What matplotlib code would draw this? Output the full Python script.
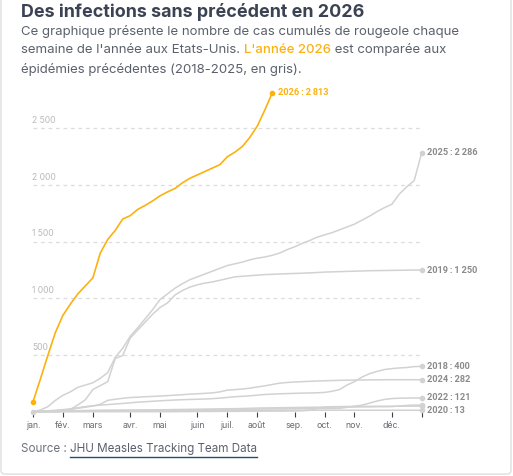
import matplotlib
matplotlib.use("Agg")
import matplotlib.pyplot as plt
from matplotlib.patches import FancyBboxPatch
import numpy as np

# semaines 0..52
weeks = np.arange(53)

cas_2018 = [0, 3, 8, 12, 18, 25, 35, 45, 52, 58, 63, 68, 73, 78, 84, 88, 92, 96,
            100, 103, 106, 108, 110, 112, 115, 120, 126, 132, 136, 140, 146, 152,
            155, 158, 160, 162, 164, 165, 167, 170, 180, 195, 235, 265, 305, 335,
            355, 372, 380, 386, 390, 398, 400]
cas_2019 = [0, 0, 0, 0, 5, 20, 60, 105, 195, 230, 265, 470, 495, 650, 720, 790,
            860, 920, 960, 1030, 1070, 1100, 1120, 1135, 1145, 1160, 1175, 1190,
            1195, 1200, 1205, 1210, 1212, 1215, 1218, 1220, 1222, 1225, 1228, 1232,
            1234, 1236, 1238, 1240, 1242, 1244, 1245, 1246, 1247, 1248, 1249, 1250,
            1250]
cas_2020 = [0, 1, 2, 3, 5, 7, 9, 11, 12] + [13] * 44
cas_2021 = [0] * 20 + [1, 1, 2, 2, 2, 3, 3, 3, 4, 4, 4, 5, 5, 5, 6, 6, 8, 12, 30,
                       40, 44, 45, 46, 46, 47, 47, 48, 48, 48, 49, 49, 49, 49]
cas_2022 = [0, 0, 1, 1, 2, 2, 3, 3, 4, 4, 5, 5, 6, 6, 7, 8, 9, 10, 11, 12, 13, 14,
            15, 16, 17, 18, 19, 20, 21, 22, 23, 24, 25, 25, 26, 26, 27, 27, 28, 28,
            29, 30, 38, 48, 58, 75, 94, 108, 116, 119, 120, 121, 121]
cas_2023 = [0, 1, 2, 3, 4, 5, 6, 7, 8, 9, 10, 11, 12, 13, 14, 15, 16, 17, 18, 19,
            20, 21, 22, 23, 24, 25, 26, 27, 28, 30, 32, 33, 34, 35, 36, 37, 38, 39,
            40, 40, 41, 41, 42, 42, 43, 43, 44, 44, 45, 50, 55, 58, 59]
cas_2024 = [0, 2, 5, 10, 15, 20, 30, 40, 50, 65, 100, 110, 118, 125, 128, 132, 135,
            138, 142, 146, 150, 155, 158, 162, 166, 175, 190, 195, 200, 208, 218,
            228, 240, 252, 258, 262, 265, 268, 271, 273, 275, 277, 278, 279, 280,
            281, 281, 282, 282, 282, 282, 282, 282]
cas_2025 = [0, 15, 45, 100, 145, 175, 215, 235, 255, 295, 345, 480, 560, 665, 740,
            820, 900, 990, 1040, 1090, 1130, 1165, 1190, 1215, 1240, 1265, 1290,
            1305, 1320, 1340, 1355, 1365, 1380, 1400, 1430, 1455, 1485, 1510, 1540,
            1560, 1580, 1605, 1630, 1655, 1690, 1725, 1765, 1800, 1830, 1920, 1985,
            2040, 2286]
cas_2026 = [88, 290, 500, 700, 850, 950, 1040, 1110, 1180, 1400, 1520, 1600, 1700,
            1730, 1785, 1820, 1860, 1905, 1940, 1970, 2020, 2060, 2090, 2120, 2150,
            2180, 2250, 2290, 2340, 2420, 2520, 2660, 2813]

annees_grises = {2018: cas_2018, 2019: cas_2019, 2020: cas_2020, 2021: cas_2021,
                 2022: cas_2022, 2023: cas_2023, 2024: cas_2024, 2025: cas_2025}
annees_etiquetees = [2018, 2019, 2020, 2022, 2024, 2025]

mois = ["jan.", "fév.", "mars", "avr.", "mai", "juin", "juil.", "août", "sep.",
        "oct.", "nov.", "déc."]
semaines_mois = [0, 4, 8, 13, 17, 22, 26, 30, 35, 39, 43, 48]
y_ticks = [500, 1000, 1500, 2000, 2500]

ORANGE = "#fdb10f"
GRIS = "#d2d2d2"
NARROW = ["Roboto", "DejaVu Sans"]
SANS = ["Inter", "DejaVu Sans"]
THIN = "\u2009"


def fmt(n, sep=" "):
    return f"{n:,}".replace(",", sep)


fig = plt.figure(figsize=(5.13, 4.76), dpi=100)
fig.patch.set_facecolor("white")

# cadre de la carte
fig.patches.append(FancyBboxPatch((0.002, 0.004), 0.994, 1.05, boxstyle="round,pad=0,rounding_size=0.008",
                                  transform=fig.transFigure, fc="white", ec="#e3e3e6", lw=1.2, zorder=-5))

ax = fig.add_axes([33 / 513, 1 - 411.7 / 476, (421.7 - 33) / 513, (411.7 - 85) / 476])
ax.set_xlim(0, 52)
ax.set_ylim(0, 2883)
for s in ax.spines.values():
    s.set_visible(False)

for v in y_ticks:
    ax.axhline(v, color="#dcdcdc", lw=0.9, ls=(0, (3, 3)), zorder=0)
    ax.annotate(fmt(v), (0, v), xytext=(-0.5, 2.5), textcoords="offset points",
                fontsize=6.2, color="#b9b9b9", family=SANS, va="bottom", ha="left")
ax.set_yticks([])


def etiquette(an, val, couleur):
    txt = f"{an}{THIN}:{THIN}{fmt(val, THIN)}"
    ax.annotate(txt, (weeks[-1] if couleur != ORANGE else len(cas_2026) - 1, val),
                xytext=(4, 0), textcoords="offset points", fontsize=6.6, color=couleur,
                family=NARROW, weight="bold", va="center", ha="left")


for an, vals in annees_grises.items():
    ax.plot(weeks, vals, color=GRIS, lw=1.1, clip_on=False, zorder=2)
    ax.plot(weeks[-1], vals[-1], "o", ms=3, color=GRIS, clip_on=False, zorder=3)
    if an in annees_etiquetees:
        etiquette(an, vals[-1], "#8a8a8a")
ax.plot(0, 0, "o", ms=3, color=GRIS, clip_on=False, zorder=3)

w26 = weeks[:len(cas_2026)]
ax.plot(w26, cas_2026, color=ORANGE, lw=1.2, clip_on=False, zorder=4)
ax.plot([w26[0], w26[-1]], [cas_2026[0], cas_2026[-1]], "o", ms=3, color=ORANGE,
        clip_on=False, zorder=5)
etiquette(2026, cas_2026[-1], ORANGE)

ax.set_xticks(semaines_mois + [52])
ax.set_xticklabels(mois + [""], fontsize=6.3, color="#666a70", family=SANS)
ax.tick_params(axis="x", length=3.5, width=0.8, color="#3a3f4a", pad=3.5)

# textes
fig.text(21 / 513, 1 - 12 / 476, "Des infections sans précédent en 2026", fontsize=12.9,
         weight="bold", color="#3b4254", family=SANS, va="center", ha="left")
fig.text(21 / 513, 1 - 31 / 476, "Ce graphique présente le nombre de cas cumulés de rougeole chaque",
         fontsize=9.5, color="#5b616c", family=SANS, va="center", ha="left")
t1 = fig.text(21 / 513, 1 - 50 / 476, "semaine de l'année aux Etats-Unis. ", fontsize=9.5,
              color="#5b616c", family=SANS, va="center", ha="left")
fig.canvas.draw()
bb = t1.get_window_extent()
t2 = fig.text(bb.x1 / 513, 1 - 50 / 476, "L'année 2026", fontsize=9.5, color=ORANGE,
              family=SANS, weight="medium", va="center", ha="left")
bb2 = t2.get_window_extent(renderer=fig.canvas.get_renderer())
fig.text(bb2.x1 / 513, 1 - 50 / 476, " est comparée aux", fontsize=9.5, color="#5b616c",
         family=SANS, va="center", ha="left")
fig.text(21 / 513, 1 - 69 / 476, "épidémies précédentes (2018-2025, en gris).", fontsize=9.5,
         color="#5b616c", family=SANS, va="center", ha="left")

s1 = fig.text(21 / 513, 1 - 449 / 476, "Source : ", fontsize=8.4, color="#6b717c",
              family=SANS, va="center", ha="left")
fig.canvas.draw()
bs = s1.get_window_extent()
s2 = fig.text(bs.x1 / 513, 1 - 449 / 476, "JHU Measles Tracking Team Data", fontsize=8.4,
              color="#5b616c", family=SANS, va="center", ha="left")
bs2 = s2.get_window_extent(renderer=fig.canvas.get_renderer())
fig.add_artist(plt.Line2D([bs2.x0 / 513, bs2.x1 / 513], [1 - 457 / 476] * 2,
                          color="#1d4f6e", lw=1.0, transform=fig.transFigure))

fig.savefig("out.png", dpi=100)
